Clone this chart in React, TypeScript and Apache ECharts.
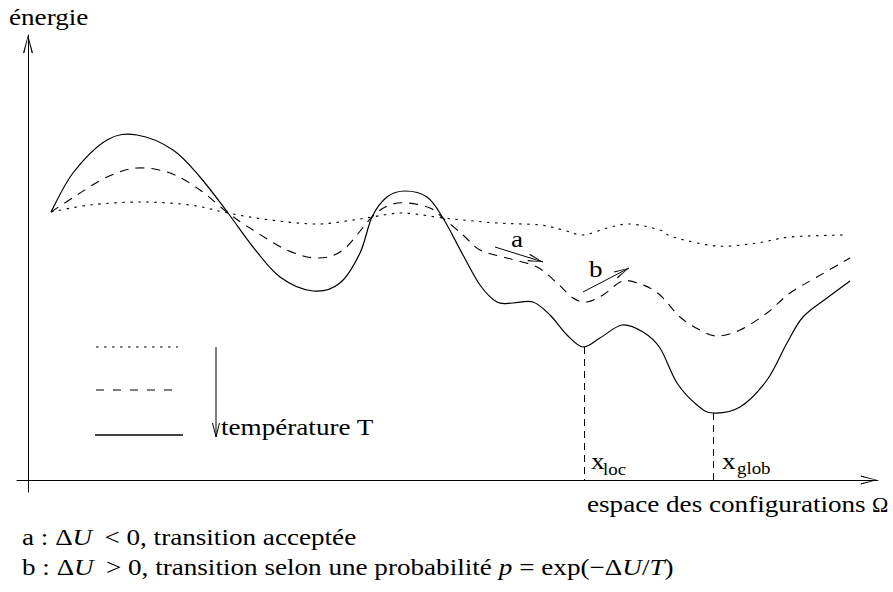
import React, { useEffect, useRef } from 'react';
import * as echarts from 'echarts';

// Axis extents (x: configuration space, y: energy)
const xRange = [-11, 850];
const yRange = [-12, 445];

// Energy landscapes at three temperatures (high -> low)
const dottedCurve: number[][] = [
  [23, 268], [62, 275], [112, 278], [162, 275], [200, 267], [242, 260], [289, 256],
  [325, 260], [344, 263], [375, 267], [415, 262], [435, 260], [469, 257], [512, 255],
  [535, 250], [555, 245], [579, 252], [602, 256], [632, 250], [645, 243], [689, 234],
  [729, 237], [762, 243], [815, 245],
];
const dashedCurve: number[][] = [
  [23, 268], [49, 285], [79, 303], [109, 312], [142, 307], [172, 290], [200, 267],
  [225, 250], [259, 230], [289, 222], [315, 230], [344, 263], [362, 275], [380, 277],
  [402, 272], [415, 262], [435, 245], [452, 230], [479, 222], [509, 213], [529, 197],
  [545, 182], [559, 178], [575, 185], [595, 199], [615, 195], [632, 185], [652, 163],
  [672, 150], [689, 144], [712, 150], [739, 167], [762, 187], [789, 203], [822, 222],
];
const solidCurve: number[][] = [
  [23, 268], [45, 307], [79, 340], [109, 345], [145, 330], [172, 303], [200, 267],
  [225, 233], [252, 203], [285, 189], [312, 197], [332, 227], [344, 263], [359, 283],
  [377, 289], [399, 283], [415, 262], [435, 225], [452, 195], [469, 178], [485, 177],
  [505, 178], [522, 165], [539, 145], [555, 133], [572, 142], [594, 155], [615, 148],
  [632, 132], [649, 97], [669, 75], [685, 67], [712, 73], [739, 100], [759, 137],
  [775, 163], [799, 182], [822, 199],
];
const seriesNames = ['T élevée', 'T intermédiaire', 'T basse'];

// Minima of the low-temperature landscape
const localMin = [556, 133];
const globalMin = [685, 67];

// Moves a and b
const moveA = [[467, 233], [515, 218]];
const moveB = [[555, 188], [601, 212]];

const FAMILY = '"Liberation Serif", "Times New Roman", serif';
const SX = 1.18;
const BASE = 0.34;
const AXIS_ARROW = 'path://M5,0L10,18L8.6,18L5,2.5L1.4,18L0,18Z';
const MOVE_ARROW = 'path://M5,0L10,18L8.4,18L5,2.5L1.6,18L0,18Z';

const fontOf = (size: number, italic = false) => `${italic ? 'italic ' : ''}${size}px ${FAMILY}`;

function txt(text: string, left: number, baseline: number, size: number, rich?: any, scaleX = SX) {
  const style: any = {
    legacy: false,
    text,
    fill: '#000',
    font: fontOf(size),
    align: 'left',
    verticalAlign: 'middle',
  };
  if (rich) style.rich = rich;
  return {
    type: 'text',
    x: left,
    y: baseline - BASE * size,
    scaleX,
    silent: true,
    z: 10,
    style,
  };
}

const richStyles = {
  n: { font: fontOf(23), fill: '#000' },
  i: { font: fontOf(23, true), fill: '#000' },
};

function moveLine(m: number[][]) {
  return [
    { coord: m[0], symbol: 'none' },
    { coord: m[1], symbol: MOVE_ARROW, symbolSize: [8, 15], symbolOffset: [0, 7.5] },
  ];
}

// Catmull-Rom spline through pixel points, as SVG path data
function splinePath(pts: number[][]): string {
  let d = `M${pts[0][0]},${pts[0][1]}`;
  for (let i = 0; i < pts.length - 1; i++) {
    const p0 = pts[i - 1] || pts[i];
    const p1 = pts[i];
    const p2 = pts[i + 1];
    const p3 = pts[i + 2] || p2;
    const c1x = p1[0] + (p2[0] - p0[0]) / 6;
    const c1y = p1[1] + (p2[1] - p0[1]) / 6;
    const c2x = p2[0] - (p3[0] - p1[0]) / 6;
    const c2y = p2[1] - (p3[1] - p1[1]) / 6;
    d += `C${c1x},${c1y},${c2x},${c2y},${p2[0]},${p2[1]}`;
  }
  return d;
}

function curveSeries(name: string, data: number[][], lineWidth: number, lineDash: number[] | null) {
  return {
    name,
    type: 'custom',
    data,
    encode: { x: 0, y: 1 },
    silent: true,
    renderItem: (params: any, api: any) => {
      if (params.dataIndex !== 0) return null;
      const px = data.map((p) => api.coord(p));
      return {
        type: 'path',
        silent: true,
        shape: { pathData: splinePath(px) },
        style: { stroke: '#000', fill: 'none', lineWidth, lineDash },
      };
    },
  };
}

export default function App() {
  const ref = useRef<HTMLDivElement>(null);
  useEffect(() => {
    if (!ref.current) return;
    const chart = echarts.init(ref.current, null, { renderer: 'svg' });
    const axisCommon = {
      type: 'value',
      axisTick: { show: false },
      axisLabel: { show: false },
      splitLine: { show: false },
    };
    chart.setOption({
      animation: false,
      textStyle: { fontFamily: FAMILY },
      grid: { left: 17, right: 15, top: 35, bottom: 100, containLabel: false },
      xAxis: {
        ...axisCommon,
        min: xRange[0],
        max: xRange[1],
        axisLine: {
          show: true,
          onZero: true,
          lineStyle: { color: '#000', width: 1 },
          symbol: ['none', AXIS_ARROW],
          symbolSize: [9, 18],
          symbolOffset: [0, -9],
        },
      },
      yAxis: {
        ...axisCommon,
        min: yRange[0],
        max: yRange[1],
        axisLine: {
          show: true,
          onZero: true,
          lineStyle: { color: '#000', width: 1 },
          symbol: ['none', AXIS_ARROW],
          symbolSize: [10, 18],
          symbolOffset: [0, -9],
        },
      },
      series: [
        curveSeries(seriesNames[0], dottedCurve, 1.1, [2.5, 5.5]),
        curveSeries(seriesNames[1], dashedCurve, 1.1, [9, 7]),
        curveSeries(seriesNames[2], solidCurve, 1.2, null),
        {
          name: 'minima',
          type: 'line',
          data: [localMin, globalMin],
          symbol: 'none',
          silent: true,
          lineStyle: { opacity: 0 },
          markLine: {
            silent: true,
            symbol: 'none',
            label: { show: false },
            emphasis: { disabled: true },
            lineStyle: { color: '#000', width: 1, type: [7, 5] },
            data: [
              [{ coord: localMin }, { coord: [localMin[0], 0] }],
              [{ coord: globalMin }, { coord: [globalMin[0], 0] }],
            ],
          },
        },
        {
          name: 'moves',
          type: 'line',
          data: [moveA[0], moveB[0]],
          symbol: 'none',
          silent: true,
          lineStyle: { opacity: 0 },
          markLine: {
            silent: true,
            symbol: 'none',
            label: { show: false },
            emphasis: { disabled: true },
            lineStyle: { color: '#000', width: 1, type: 'solid' },
            data: [moveLine(moveA), moveLine(moveB)],
          },
        },
      ],
      graphic: [
        { type: 'line', silent: true, shape: { x1: 96, y1: 347, x2: 178, y2: 347 }, style: { stroke: '#000', lineWidth: 1.1, lineDash: [2.5, 5.5] } },
        { type: 'line', silent: true, shape: { x1: 96, y1: 390, x2: 176, y2: 390 }, style: { stroke: '#000', lineWidth: 1.1, lineDash: [8, 9] } },
        { type: 'line', silent: true, shape: { x1: 95, y1: 435, x2: 183, y2: 435 }, style: { stroke: '#000', lineWidth: 1.3 } },
        { type: 'line', silent: true, shape: { x1: 216, y1: 347, x2: 216, y2: 437 }, style: { stroke: '#000', lineWidth: 1 } },
        { type: 'polyline', silent: true, shape: { points: [[212.5, 423], [216, 437], [219.5, 423]] }, style: { stroke: '#000', lineWidth: 1, fill: null } },
        txt('énergie', 9, 25, 23),
        txt('température T', 221, 435, 23),
        txt('a', 511, 247, 23),
        txt('b', 589, 277, 23),
        txt('x', 591, 469, 23),
        txt('loc', 603, 475, 16),
        txt('x', 722, 469, 23),
        txt('glob', 737, 474, 16),
        txt('espace des configurations', 587, 512, 23),
        txt('Ω', 872, 512, 22, undefined, 1),
        txt('{n|a : Δ}{i|U}{n| \u2009< 0, transition acceptée}', 22, 545, 23, richStyles),
        txt('{n|b : Δ}{i|U}{n| \u2009> 0, transition selon une probabilité }{i|p}{n| = exp(−Δ}{i|U}{n|/}{i|T}{n|)}', 22, 575, 23, richStyles),
      ],
    });
    return () => chart.dispose();
  }, []);
  return <div ref={ref} style={{ position: 'absolute', left: 0, top: 0, width: 893, height: 592, background: '#fff' }} />;
}
